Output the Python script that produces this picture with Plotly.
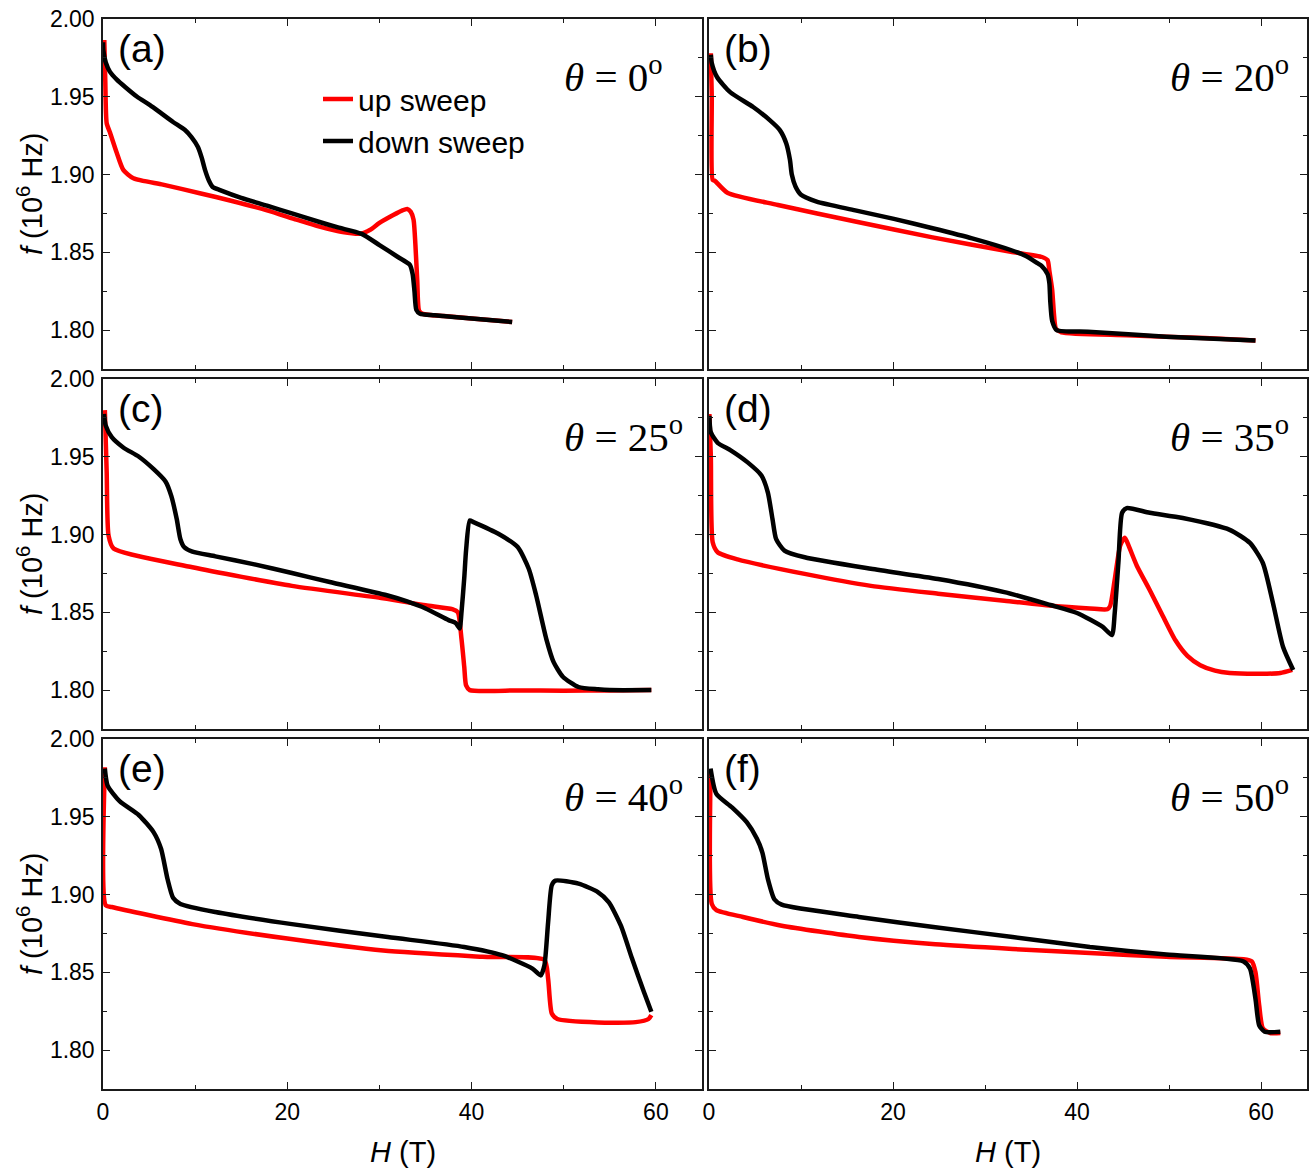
import plotly.graph_objects as go

# ---------------- data (H in T, f in 10^6 Hz) ----------------
up_a_H = [0.14, 0.25, 0.4, 0.76, 1.49, 2.2, 3.3, 6.5, 10.5, 14, 17.8, 21, 23.5, 26, 28, 29, 30, 31.5, 32.5, 33.0, 33.4, 33.7, 33.9, 34.1, 34.3, 34.7, 37, 40, 44.4]
up_a_f = [1.9865, 1.960, 1.933, 1.927, 1.914, 1.903, 1.8976, 1.8935, 1.888, 1.883, 1.877, 1.871, 1.8665, 1.863, 1.862, 1.8645, 1.8689, 1.874, 1.877, 1.8779, 1.876, 1.871, 1.855, 1.832, 1.8125, 1.8104, 1.809, 1.8075, 1.8052]
dn_a_H = [44.4, 40, 36, 34.4, 34.0, 33.8, 33.6, 33.3, 32, 30, 28, 25.5, 23.5, 20.5, 17.8, 15, 12.7, 11.9, 11.5, 11.07, 10.7, 10.3, 9.6, 8.9, 7.6, 6.3, 5.1, 3.7, 2.4, 1.5, 0.76, 0.3, 0.03, 0.0]
dn_a_f = [1.8052, 1.8075, 1.8095, 1.8105, 1.813, 1.825, 1.836, 1.842, 1.847, 1.8547, 1.862, 1.866, 1.8695, 1.875, 1.880, 1.885, 1.890, 1.892, 1.896, 1.903, 1.911, 1.9177, 1.924, 1.9286, 1.9338, 1.9395, 1.9447, 1.950, 1.9563, 1.961, 1.966, 1.972, 1.980, 1.985]

up_b_H = [0.2, 0.3, 0.4, 0.63, 2.0, 7.5, 15.9, 24.3, 32.8, 36.2, 36.8, 37.0, 37.3, 37.5, 37.7, 38.3, 45.4, 53.9, 59.4]
up_b_f = [1.978, 1.950, 1.8965, 1.896, 1.8883, 1.8804, 1.8698, 1.8596, 1.8504, 1.847, 1.845, 1.838, 1.826, 1.810, 1.801, 1.7986, 1.7967, 1.7949, 1.7934]
dn_b_H = [59.4, 49.7, 41.2, 37.8, 37.3, 37.1, 37.0, 36.8, 36.2, 35.7, 34.5, 32.8, 28.6, 24.3, 20.1, 15.9, 11.7, 10.0, 9.4, 9.0, 8.8, 8.4, 7.7, 6.6, 4.8, 2.3, 0.87, 0.3, 0.2]
dn_b_f = [1.7934, 1.7958, 1.799, 1.800, 1.806, 1.818, 1.830, 1.836, 1.841, 1.843, 1.8475, 1.8515, 1.859, 1.8655, 1.8715, 1.877, 1.8826, 1.887, 1.8923, 1.900, 1.9094, 1.920, 1.9286, 1.935, 1.9434, 1.953, 1.9627, 1.9717, 1.977]

up_c_H = [0.2, 0.4, 0.6, 1.15, 9.7, 20.5, 30.4, 35.0, 37.9, 38.5, 38.9, 39.2, 39.4, 39.8, 45, 50, 55, 59.5]
up_c_f = [1.980, 1.940, 1.8995, 1.891, 1.879, 1.867, 1.859, 1.8545, 1.852, 1.850, 1.833, 1.815, 1.803, 1.800, 1.7998, 1.7996, 1.7998, 1.800]
dn_c_H = [59.5, 55, 53.7, 51.6, 49.9, 48.9, 48.1, 47.0, 46.2, 45.0, 42.9, 40.2, 39.8, 39.4, 39.2, 38.9, 38.7, 38.3, 37.5, 35.0, 33.0, 30.8, 24.6, 20.5, 16.3, 12.2, 9.7, 8.8, 8.4, 8.0, 7.4, 6.8, 5.5, 3.9, 2.2, 0.95, 0.3, 0.1]
dn_c_f = [1.800, 1.800, 1.8005, 1.802, 1.8086, 1.818, 1.833, 1.861, 1.878, 1.892, 1.9005, 1.908, 1.909, 1.890, 1.872, 1.850, 1.8396, 1.843, 1.845, 1.8525, 1.857, 1.861, 1.8695, 1.8753, 1.881, 1.886, 1.889, 1.892, 1.897, 1.910, 1.925, 1.934, 1.942, 1.950, 1.956, 1.9626, 1.970, 1.9775]

up_d_H = [0.04, 0.2, 0.4, 0.94, 3.1, 10.4, 17.6, 24.9, 32.1, 37.5, 41.4, 43.3, 43.6, 44.1, 44.7, 45.2, 45.6, 46.5, 47.9, 49.3, 50.7, 52, 53.4, 55, 56.6, 60, 62.1, 63.4]
up_d_f = [1.9775, 1.950, 1.895, 1.8886, 1.884, 1.8747, 1.867, 1.862, 1.8575, 1.854, 1.8525, 1.852, 1.854, 1.871, 1.893, 1.898, 1.893, 1.880, 1.8644, 1.848, 1.832, 1.822, 1.816, 1.8125, 1.811, 1.8105, 1.811, 1.813]
dn_d_H = [63.5, 62.4, 61.3, 60.2, 58.8, 56.6, 51.5, 47.9, 45.4, 44.9, 44.5, 44.1, 43.8, 42.8, 40.0, 37.1, 32.1, 24.9, 17.6, 10.4, 8.2, 7.3, 6.9, 6.4, 5.7, 4.2, 2.4, 0.94, 0.2, 0.04]
dn_d_f = [1.8129, 1.8277, 1.856, 1.8817, 1.8946, 1.903, 1.9106, 1.914, 1.917, 1.914, 1.882, 1.8496, 1.8354, 1.8406, 1.8496, 1.8547, 1.863, 1.8714, 1.878, 1.8854, 1.8897, 1.897, 1.910, 1.927, 1.938, 1.9464, 1.954, 1.959, 1.9657, 1.9764]

up_e_H = [0.2, 0.3, 0.95, 9.7, 20, 30.4, 41.2, 47.9, 48.3, 48.7, 49.3, 53.7, 57.8, 59.2, 59.5]
up_e_f = [1.9818, 1.893, 1.892, 1.881, 1.8717, 1.864, 1.860, 1.858, 1.846, 1.8235, 1.820, 1.8178, 1.818, 1.820, 1.8225]
dn_e_H = [59.5, 58.7, 57.4, 56.2, 54.9, 53.7, 51.6, 49.1, 48.7, 48.3, 47.9, 47.5, 46.6, 43.3, 39.2, 30.9, 20.5, 12.2, 8.4, 7.6, 7.0, 6.3, 5.5, 3.9, 1.8, 0.5, 0.2]
dn_e_f = [1.8246, 1.8374, 1.859, 1.880, 1.895, 1.9016, 1.907, 1.909, 1.906, 1.882, 1.8545, 1.848, 1.8524, 1.861, 1.8663, 1.8727, 1.881, 1.8888, 1.894, 1.898, 1.910, 1.9294, 1.940, 1.951, 1.960, 1.970, 1.981]

up_f_H = [0.17, 0.3, 0.8, 3.7, 7.9, 16.3, 24.6, 33, 41.4, 49.7, 58.1, 59.0, 59.4, 59.8, 60.2, 61.0, 62.1]
up_f_f = [1.978, 1.894, 1.890, 1.8856, 1.880, 1.8727, 1.868, 1.865, 1.8625, 1.860, 1.8584, 1.857, 1.850, 1.829, 1.814, 1.811, 1.811]
dn_f_H = [62.1, 60.4, 59.8, 59.4, 58.8, 58.1, 49.7, 41.4, 33, 24.6, 16.3, 7.9, 7.1, 6.4, 5.8, 5.2, 4.1, 2.5, 0.8, 0.17]
dn_f_f = [1.8118, 1.8118, 1.816, 1.833, 1.8524, 1.857, 1.8614, 1.8663, 1.8727, 1.879, 1.8856, 1.8935, 1.897, 1.910, 1.927, 1.936, 1.9465, 1.956, 1.9647, 1.981]

panel_labels = ["(a)", "(b)", "(c)", "(d)", "(e)", "(f)"]
angles = ["0", "20", "25", "35", "40", "50"]
series = [
    (up_a_H, up_a_f, dn_a_H, dn_a_f),
    (up_b_H, up_b_f, dn_b_H, dn_b_f),
    (up_c_H, up_c_f, dn_c_H, dn_c_f),
    (up_d_H, up_d_f, dn_d_H, dn_d_f),
    (up_e_H, up_e_f, dn_e_H, dn_e_f),
    (up_f_H, up_f_f, dn_f_H, dn_f_f),
]
legend_names = ["up sweep", "down sweep"]

# ---------------- layout geometry ----------------
W, HT = 1313, 1173
col_px = [(103, 702), (709, 1307)]
row_px = [(19, 369), (379, 729), (739, 1089)]
SANS = "Liberation Sans, Arial, Helvetica, sans-serif"
SERIF = "Liberation Serif, Times New Roman, serif"
AX = "#1a1a1a"

fig = go.Figure()
annotations = []
layout = {}

for i, (uH, uf, dH, df) in enumerate(series):
    r, c = divmod(i, 2)
    k = i + 1
    xa = "x" if k == 1 else f"x{k}"
    ya = "y" if k == 1 else f"y{k}"
    fig.add_trace(go.Scatter(x=uH, y=uf, mode="lines", name=legend_names[0],
                             line=dict(color="#ff0000", width=4.5, shape="spline", smoothing=0.6),
                             showlegend=(i == 0), xaxis=xa, yaxis=ya))
    fig.add_trace(go.Scatter(x=dH, y=df, mode="lines", name=legend_names[1],
                             line=dict(color="#000000", width=4.5, shape="spline", smoothing=0.6),
                             showlegend=(i == 0), xaxis=xa, yaxis=ya))
    x0, x1 = col_px[c]
    y0, y1 = row_px[r]
    common = dict(showline=True, linecolor=AX, linewidth=1.5, mirror="ticks",
                  ticks="inside", ticklen=7, tickwidth=1.3, tickcolor=AX,
                  showgrid=False, zeroline=False, automargin=False,
                  tickfont=dict(family=SANS, size=23, color="black"),
                  ticklabelstandoff=2)
    layout["xaxis" if k == 1 else f"xaxis{k}"] = dict(
        common, domain=[x0 / W, x1 / W], anchor=ya, range=[0, 65],
        tick0=0, dtick=20, showticklabels=(r == 2),
        minor=dict(ticks="inside", ticklen=4, tickwidth=1.3, tickcolor=AX, dtick=10, tick0=0, showgrid=False))
    layout["yaxis" if k == 1 else f"yaxis{k}"] = dict(
        common, domain=[1 - y1 / HT, 1 - y0 / HT], anchor=xa, range=[1.775, 2.0],
        tick0=1.8, dtick=0.05, tickformat=".2f", showticklabels=(c == 0),
        minor=dict(ticks="inside", ticklen=4, tickwidth=1.3, tickcolor=AX, dtick=0.025, tick0=1.775, showgrid=False))
    # panel label
    annotations.append(dict(text=panel_labels[i], xref="paper", yref="paper",
                            x=(x0 + 13) / W, y=1 - (y0 + 29) / HT, xanchor="left", yanchor="middle",
                            showarrow=False, font=dict(family=SANS, size=39, color="black")))
    # angle label
    annotations.append(dict(text=f"<i>θ</i> = {angles[i]}<sup>o</sup>", xref="paper", yref="paper",
                            x=(x0 + 459) / W, y=1 - (y0 + 55) / HT, xanchor="left", yanchor="middle",
                            showarrow=False, font=dict(family=SERIF, size=41, color="black")))

# y-axis titles
for (y0, y1) in row_px:
    annotations.append(dict(text="<i>f</i> (10<sup>6</sup> Hz)", xref="paper", yref="paper",
                            x=30 / W, y=1 - (y0 + y1) / 2 / HT, xanchor="center", yanchor="middle",
                            textangle=-90, showarrow=False, font=dict(family=SANS, size=29, color="black")))
# x-axis titles
for (x0, x1) in col_px:
    annotations.append(dict(text="<i>H</i> (T)", xref="paper", yref="paper",
                            x=(x0 + x1) / 2 / W, y=1 - 1152 / HT, xanchor="center", yanchor="middle",
                            showarrow=False, font=dict(family=SANS, size=29, color="black")))

fig.update_layout(
    width=W, height=HT, margin=dict(l=0, r=0, t=0, b=0, autoexpand=False),
    paper_bgcolor="white", plot_bgcolor="white",
    showlegend=True,
    legend=dict(x=318 / W, y=1 - 73 / HT, xanchor="left", yanchor="top",
                bgcolor="rgba(0,0,0,0)", font=dict(family=SANS, size=30, color="black"),
                tracegroupgap=0),
    annotations=annotations,
    **layout,
)

fig.write_html("out.html")
